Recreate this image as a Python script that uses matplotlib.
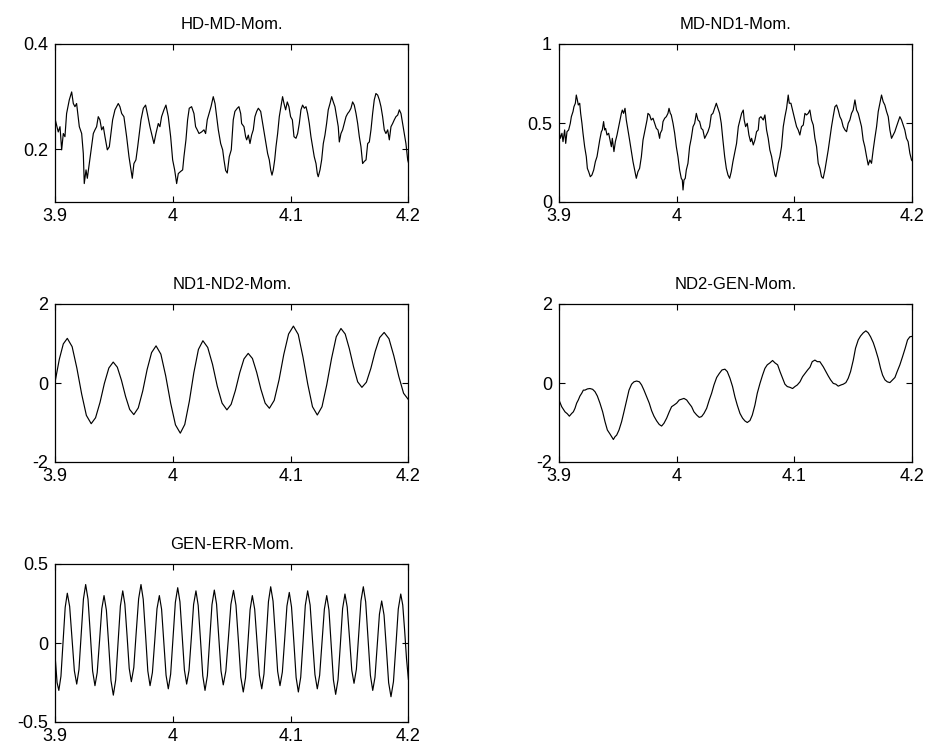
import matplotlib
matplotlib.use("Agg")
import matplotlib.pyplot as plt

plt.rcParams['font.family'] = ['Liberation Sans', 'DejaVu Sans']

titles = ["HD-MD-Mom.", "MD-ND1-Mom.", "ND1-ND2-Mom.", "ND2-GEN-Mom.", "GEN-ERR-Mom."]
x_ticks = [3.9, 4.0, 4.1, 4.2]
x_ticklabels = ["3.9", "4", "4.1", "4.2"]
x_limits = (3.9, 4.2)
y_limits = [(0.1, 0.4), (0.0, 1.0), (-2.0, 2.0), (-2.0, 2.0), (-0.5, 0.5)]
y_ticks = [[0.2, 0.4], [0.0, 0.5, 1.0], [-2, 0, 2], [-2, 0, 2], [-0.5, 0, 0.5]]
y_ticklabels = [["0.2", "0.4"], ["0", "0.5", "1"], ["-2", "0", "2"], ["-2", "0", "2"], ["-0.5", "0", "0.5"]]

# ---------------- HD-MD-Mom. ----------------
hdmd_t = [3.9000, 3.9025, 3.9040, 3.9054, 3.9068, 3.9082, 3.9096, 3.9119, 3.9139, 3.9153,
          3.9167, 3.9181, 3.9204, 3.9224, 3.9238, 3.9246, 3.9261, 3.9272, 3.9289, 3.9309,
          3.9323, 3.9337, 3.9351, 3.9365, 3.9379, 3.9394, 3.9408, 3.9422, 3.9442, 3.9459,
          3.9473, 3.9487, 3.9507, 3.9535, 3.9549, 3.9564, 3.9583, 3.9606, 3.9626, 3.9643,
          3.9654, 3.9668, 3.9685, 3.9700, 3.9714, 3.9728, 3.9748, 3.9767, 3.9782, 3.9804,
          3.9818, 3.9838, 3.9855, 3.9875, 3.9889, 3.9903, 3.9923, 3.9940, 3.9960, 3.9980,
          3.9997, 4.0014, 4.0031, 4.0045, 4.0065, 4.0082, 4.0093, 4.0110, 4.0124, 4.0138,
          4.0158, 4.0178, 4.0192, 4.0206, 4.0221, 4.0243, 4.0263, 4.0277, 4.0291, 4.0306,
          4.0323, 4.0342, 4.0357, 4.0371, 4.0385, 4.0405, 4.0422, 4.0433, 4.0447, 4.0461,
          4.0478, 4.0495,
          4.0512, 4.0526, 4.0546, 4.0560, 4.0575, 4.0583, 4.0603, 4.0617, 4.0626, 4.0640,
          4.0654, 4.0668, 4.0682, 4.0696, 4.0711, 4.0725, 4.0745, 4.0762, 4.0776, 4.0790,
          4.0804, 4.0818, 4.0830, 4.0841, 4.0852, 4.0864, 4.0875, 4.0889, 4.0903, 4.0917,
          4.0931, 4.0943, 4.0957, 4.0971, 4.0985, 4.0999, 4.1014, 4.1028, 4.1045, 4.1059,
          4.1073, 4.1087, 4.1101, 4.1116, 4.1130, 4.1144, 4.1158, 4.1172, 4.1186, 4.1200,
          4.1215, 4.1226, 4.1234, 4.1249, 4.1263, 4.1277, 4.1291, 4.1305, 4.1319, 4.1334,
          4.1348, 4.1362, 4.1376, 4.1390, 4.1404, 4.1413, 4.1427, 4.1441, 4.1455, 4.1470,
          4.1484, 4.1498, 4.1512, 4.1526, 4.1540, 4.1555, 4.1569, 4.1583, 4.1597, 4.1611,
          4.1625, 4.1640, 4.1654, 4.1668, 4.1682, 4.1696, 4.1710, 4.1724, 4.1739, 4.1753,
          4.1767, 4.1781, 4.1795, 4.1809, 4.1824, 4.1838, 4.1852, 4.1866, 4.1880, 4.1894,
          4.1909, 4.1923, 4.1937, 4.1951, 4.1965, 4.1979, 4.1994, 4.2000]
hdmd_v = [0.256, 0.233, 0.243, 0.199, 0.230, 0.224, 0.268, 0.294, 0.309, 0.287,
          0.281, 0.287, 0.243, 0.230, 0.192, 0.135, 0.161, 0.145, 0.173, 0.205,
          0.230, 0.237, 0.243, 0.262, 0.256, 0.237, 0.243, 0.224, 0.199, 0.205,
          0.230, 0.256, 0.275, 0.287, 0.281, 0.268, 0.262, 0.224, 0.186, 0.161,
          0.145, 0.173, 0.180, 0.205, 0.230, 0.256, 0.278, 0.284, 0.268, 0.243,
          0.230, 0.211, 0.230, 0.249, 0.243, 0.262, 0.275, 0.284, 0.262, 0.224,
          0.180, 0.161, 0.135, 0.154, 0.158, 0.161, 0.186, 0.218, 0.256, 0.278,
          0.281, 0.268, 0.243, 0.237, 0.230, 0.233, 0.237, 0.230, 0.256, 0.268,
          0.281, 0.300, 0.287, 0.262, 0.237, 0.211, 0.199, 0.180, 0.160, 0.155,
          0.186, 0.199,
          0.256, 0.272, 0.278, 0.281, 0.268, 0.249, 0.243, 0.224, 0.218, 0.227,
          0.211, 0.227, 0.237, 0.262, 0.272, 0.278, 0.272, 0.249, 0.230, 0.211,
          0.192, 0.180, 0.161, 0.151, 0.161, 0.180, 0.205, 0.230, 0.262, 0.281,
          0.300, 0.287, 0.275, 0.290, 0.281, 0.262, 0.256, 0.224, 0.221, 0.230,
          0.249, 0.275, 0.284, 0.278, 0.281, 0.268, 0.249, 0.224, 0.205, 0.186,
          0.173, 0.154, 0.148, 0.161, 0.180, 0.211, 0.227, 0.249, 0.275, 0.287,
          0.300, 0.290, 0.281, 0.262, 0.243, 0.214, 0.230, 0.237, 0.249, 0.262,
          0.268, 0.272, 0.278, 0.290, 0.284, 0.268, 0.249, 0.224, 0.205, 0.173,
          0.177, 0.180, 0.211, 0.214, 0.237, 0.268, 0.294, 0.306, 0.303, 0.294,
          0.281, 0.262, 0.237, 0.230, 0.237, 0.218, 0.243, 0.249, 0.256, 0.262,
          0.265, 0.275, 0.268, 0.249, 0.230, 0.211, 0.180, 0.175]

# ---------------- MD-ND1-Mom. ----------------
mdnd1_t = [3.9000, 3.9011, 3.9025, 3.9034, 3.9048, 3.9057, 3.9068, 3.9082, 3.9096, 3.9105,
           3.9119, 3.9127, 3.9139, 3.9147, 3.9156, 3.9164, 3.9176, 3.9184, 3.9195, 3.9204,
           3.9218, 3.9232, 3.9241, 3.9252, 3.9266, 3.9280, 3.9295, 3.9309, 3.9323, 3.9337,
           3.9346, 3.9360, 3.9368, 3.9379, 3.9388, 3.9396, 3.9408, 3.9422, 3.9436, 3.9445,
           3.9453, 3.9467, 3.9479, 3.9493, 3.9507, 3.9515, 3.9530, 3.9538, 3.9549, 3.9561,
           3.9572, 3.9586, 3.9600, 3.9615, 3.9629, 3.9643, 3.9657, 3.9671, 3.9685, 3.9700,
           3.9714, 3.9728, 3.9736, 3.9748, 3.9756, 3.9770, 3.9784, 3.9799, 3.9813, 3.9827,
           3.9841, 3.9855, 3.9861, 3.9875, 3.9884, 3.9898, 3.9912, 3.9926, 3.9935, 3.9946,
           3.9954, 3.9969, 3.9983, 3.9997, 4.0011, 4.0025, 4.0039, 4.0048, 4.0054, 4.0062,
           4.0073, 4.0082, 4.0096, 4.0110, 4.0124, 4.0139, 4.0153, 4.0167, 4.0181, 4.0195,
           4.0209, 4.0223, 4.0238, 4.0252, 4.0266, 4.0280, 4.0294, 4.0308, 4.0323, 4.0337,
           4.0351, 4.0365, 4.0379, 4.0393, 4.0408, 4.0422, 4.0436, 4.0450, 4.0464, 4.0478,
           4.0509, 4.0524, 4.0538, 4.0552, 4.0566, 4.0574, 4.0586, 4.0600, 4.0614, 4.0628,
           4.0637, 4.0651, 4.0665, 4.0679, 4.0693, 4.0702, 4.0716, 4.0736, 4.0750, 4.0764,
           4.0778, 4.0792, 4.0807, 4.0821, 4.0835, 4.0843, 4.0855, 4.0863, 4.0877, 4.0891,
           4.0906, 4.0920, 4.0934, 4.0948, 4.0957, 4.0971, 4.0991, 4.1005, 4.1019, 4.1033,
           4.1047, 4.1061, 4.1076, 4.1090, 4.1104, 4.1118, 4.1132, 4.1146, 4.1161, 4.1175,
           4.1189, 4.1203, 4.1217, 4.1231, 4.1245, 4.1260, 4.1274, 4.1288, 4.1302, 4.1316,
           4.1330, 4.1345, 4.1359, 4.1373, 4.1387, 4.1401, 4.1415, 4.1430, 4.1444, 4.1458,
           4.1472, 4.1486, 4.1500, 4.1515, 4.1529, 4.1543, 4.1557, 4.1571, 4.1585, 4.1599,
           4.1614, 4.1628, 4.1642, 4.1656, 4.1670, 4.1684, 4.1699, 4.1713, 4.1727, 4.1741,
           4.1755, 4.1769, 4.1784, 4.1798, 4.1812, 4.1826, 4.1840, 4.1854, 4.1868, 4.1883,
           4.1897, 4.1911, 4.1925, 4.1939, 4.1953, 4.1967, 4.1982, 4.1996, 4.2000]
mdnd1_v = [0.456, 0.403, 0.435, 0.382, 0.456, 0.371, 0.445, 0.456, 0.498, 0.540,
           0.572, 0.603, 0.625, 0.677, 0.646, 0.614, 0.625, 0.561, 0.498, 0.435,
           0.350, 0.287, 0.213, 0.192, 0.160, 0.171, 0.203, 0.255, 0.287, 0.350,
           0.392, 0.445, 0.456, 0.509, 0.456, 0.466, 0.424, 0.435, 0.382, 0.350,
           0.403, 0.319, 0.382, 0.424, 0.477, 0.509, 0.561, 0.582, 0.561, 0.593,
           0.519, 0.456, 0.392, 0.319, 0.255, 0.203, 0.150, 0.192, 0.213, 0.287,
           0.392, 0.445, 0.477, 0.519, 0.561, 0.551, 0.519, 0.530, 0.498, 0.466,
           0.456, 0.403, 0.435, 0.456, 0.509, 0.530, 0.540, 0.561, 0.593, 0.561,
           0.551, 0.498, 0.435, 0.350, 0.287, 0.203, 0.150, 0.139, 0.076, 0.139,
           0.150, 0.203, 0.245, 0.350, 0.403, 0.477, 0.498, 0.561, 0.519, 0.509,
           0.466, 0.456, 0.403, 0.424, 0.445, 0.477, 0.551, 0.561, 0.593, 0.625,
           0.593, 0.561, 0.498, 0.392, 0.287, 0.213, 0.171, 0.150, 0.192, 0.255,
           0.371, 0.477, 0.519, 0.561, 0.582, 0.519, 0.477, 0.498, 0.424, 0.382,
           0.403, 0.361, 0.392, 0.445, 0.456, 0.530, 0.540, 0.519, 0.551, 0.456,
           0.403, 0.329, 0.287, 0.224, 0.171, 0.160, 0.203, 0.245, 0.287, 0.350,
           0.477, 0.540, 0.593, 0.677, 0.625, 0.625, 0.561, 0.519, 0.477, 0.456,
           0.424, 0.477, 0.487, 0.561, 0.551, 0.561, 0.582, 0.519, 0.487, 0.403,
           0.350, 0.245, 0.213, 0.160, 0.150, 0.203, 0.266, 0.329, 0.403, 0.477,
           0.540, 0.603, 0.614, 0.582, 0.540, 0.519, 0.477, 0.456, 0.445, 0.498,
           0.519, 0.561, 0.582, 0.646, 0.582, 0.561, 0.519, 0.477, 0.392, 0.350,
           0.287, 0.234, 0.266, 0.245, 0.329, 0.403, 0.477, 0.572, 0.625, 0.677,
           0.635, 0.614, 0.572, 0.540, 0.456, 0.403, 0.424, 0.445, 0.477, 0.509,
           0.540, 0.519, 0.487, 0.456, 0.403, 0.382, 0.308, 0.266, 0.262]

# ---------------- ND1-ND2-Mom. ----------------
nd1nd2_t = [3.9000, 3.9034, 3.9068, 3.9102, 3.9143, 3.9183, 3.9224, 3.9264, 3.9305,
            3.9342, 3.9380, 3.9417, 3.9455, 3.9492, 3.9527, 3.9562, 3.9597, 3.9632, 3.9667,
            3.9705, 3.9743, 3.9780, 3.9818, 3.9856, 3.9897, 3.9938, 3.9980, 4.0021, 4.0062,
            4.0100, 4.0139, 4.0177, 4.0216, 4.0254, 4.0295, 4.0336, 4.0376, 4.0417, 4.0458,
            4.0494, 4.0530, 4.0567, 4.0603, 4.0639, 4.0675, 4.0711, 4.0747, 4.0783, 4.0819,
            4.0860, 4.0901, 4.0941, 4.0982, 4.1023, 4.1064, 4.1104, 4.1145, 4.1185, 4.1226,
            4.1266, 4.1306, 4.1347, 4.1387, 4.1427, 4.1463, 4.1498, 4.1534, 4.1569, 4.1605,
            4.1643, 4.1681, 4.1718, 4.1756, 4.1794, 4.1835, 4.1876, 4.1918, 4.1959, 4.2000]
nd1nd2_v = [0.06, 0.60, 0.99, 1.13, 0.92, 0.38, -0.28, -0.82, -1.03,
            -0.88, -0.49, -0.01, 0.38, 0.53, 0.40, 0.07, -0.34, -0.67, -0.80,
            -0.63, -0.20, 0.34, 0.77, 0.94, 0.73, 0.18, -0.51, -1.06, -1.27,
            -1.05, -0.46, 0.26, 0.85, 1.07, 0.90, 0.47, -0.08, -0.51, -0.68,
            -0.54, -0.19, 0.26, 0.61, 0.75, 0.62, 0.27, -0.16, -0.51, -0.64,
            -0.44, 0.08, 0.72, 1.24, 1.44, 1.23, 0.66, -0.03, -0.60, -0.81,
            -0.60, -0.05, 0.62, 1.17, 1.38, 1.24, 0.87, 0.41, 0.03, -0.11,
            0.02, 0.37, 0.80, 1.15, 1.28, 1.12, 0.69, 0.17, -0.26, -0.42]

# ---------------- ND2-GEN-Mom. ----------------
nd2gen_t = [3.9000, 3.9023, 3.9051, 3.9071, 3.9088, 3.9108, 3.9122, 3.9136, 3.9150, 3.9164,
            3.9178, 3.9193, 3.9207, 3.9221, 3.9241, 3.9263, 3.9286, 3.9306, 3.9326, 3.9348,
            3.9371, 3.9391, 3.9411, 3.9433, 3.9447, 3.9462, 3.9476, 3.9490, 3.9510, 3.9532,
            3.9552, 3.9575, 3.9595, 3.9617, 3.9637, 3.9660, 3.9683, 3.9702, 3.9722, 3.9745,
            3.9767, 3.9787, 3.9807, 3.9830, 3.9852, 3.9872, 3.9892, 3.9915, 3.9937, 3.9957,
            3.9977, 4.0000, 4.0022, 4.0042, 4.0062, 4.0085, 4.0104, 4.0127, 4.0147, 4.0170,
            4.0192, 4.0212, 4.0232, 4.0255, 4.0277, 4.0297, 4.0317, 4.0340, 4.0362, 4.0385,
            4.0410, 4.0430, 4.0453, 4.0475, 4.0495, 4.0515, 4.0538, 4.0560, 4.0580, 4.0600,
            4.0623, 4.0643, 4.0665, 4.0685, 4.0708, 4.0730, 4.0750, 4.0770, 4.0793, 4.0815,
            4.0835, 4.0858, 4.0878, 4.0900, 4.0920, 4.0940, 4.0963, 4.0985, 4.1005, 4.1025,
            4.1048, 4.1070, 4.1090, 4.1113, 4.1133, 4.1152, 4.1175, 4.1195, 4.1217, 4.1246,
            4.1268, 4.1288, 4.1308, 4.1331, 4.1353, 4.1373, 4.1396, 4.1416, 4.1438, 4.1458,
            4.1478, 4.1501, 4.1520, 4.1543, 4.1563, 4.1586, 4.1608, 4.1628, 4.1648, 4.1671,
            4.1690, 4.1713, 4.1733, 4.1750, 4.1770, 4.1790, 4.1812, 4.1835, 4.1855, 4.1874,
            4.1897, 4.1920, 4.1942, 4.1962, 4.1982, 4.2000]
nd2gen_v = [-0.43, -0.60, -0.73, -0.78, -0.84, -0.77, -0.73, -0.64, -0.51, -0.43,
            -0.33, -0.26, -0.18, -0.18, -0.15, -0.14, -0.16, -0.22, -0.33, -0.51,
            -0.73, -0.98, -1.19, -1.29, -1.36, -1.43, -1.36, -1.32, -1.19, -0.98,
            -0.73, -0.43, -0.18, -0.03, 0.03, 0.05, 0.03, -0.05, -0.18, -0.35,
            -0.51, -0.70, -0.84, -0.96, -1.05, -1.09, -1.02, -0.89, -0.73, -0.60,
            -0.56, -0.51, -0.43, -0.41, -0.39, -0.43, -0.51, -0.60, -0.73, -0.81,
            -0.87, -0.85, -0.77, -0.64, -0.43, -0.26, -0.05, 0.14, 0.24, 0.33,
            0.35, 0.29, 0.12, -0.09, -0.35, -0.56, -0.77, -0.89, -0.96, -1.00,
            -0.95, -0.81, -0.56, -0.26, -0.01, 0.20, 0.37, 0.46, 0.51, 0.57,
            0.51, 0.46, 0.29, 0.12, -0.03, -0.09, -0.11, -0.14, -0.09, -0.05,
            0.03, 0.16, 0.24, 0.33, 0.40, 0.54, 0.58, 0.54, 0.54, 0.41,
            0.29, 0.18, 0.08, -0.01, -0.03, -0.08, -0.05, -0.03, 0.01, 0.12,
            0.29, 0.58, 0.88, 1.09, 1.19, 1.27, 1.32, 1.27, 1.17, 1.02,
            0.85, 0.62, 0.37, 0.20, 0.08, 0.03, 0.01, 0.08, 0.14, 0.29,
            0.46, 0.67, 0.88, 1.09, 1.17, 1.18]

# ---------------- GEN-ERR-Mom. ----------------
generr_t = [3.9000, 3.9015, 3.9030,
            3.9048, 3.9066, 3.9084, 3.9102,
            3.9122, 3.9142, 3.9162, 3.9182,
            3.9201, 3.9220, 3.9239, 3.9258,
            3.9278, 3.9298, 3.9317, 3.9337,
            3.9356, 3.9376, 3.9395, 3.9414,
            3.9434, 3.9454, 3.9473, 3.9493,
            3.9513, 3.9533, 3.9553, 3.9573,
            3.9591, 3.9610, 3.9628, 3.9646,
            3.9667, 3.9687, 3.9708, 3.9728,
            3.9747, 3.9767, 3.9786, 3.9805,
            3.9825, 3.9845, 3.9864, 3.9884,
            3.9903, 3.9922, 3.9941, 3.9960,
            3.9980, 4.0000, 4.0020, 4.0040,
            4.0059, 4.0078, 4.0097, 4.0116,
            4.0136, 4.0156, 4.0175, 4.0195,
            4.0214, 4.0234, 4.0253, 4.0272,
            4.0292, 4.0312, 4.0331, 4.0351,
            4.0370, 4.0389, 4.0408, 4.0427,
            4.0449, 4.0471, 4.0492, 4.0514,
            4.0535, 4.0556, 4.0576, 4.0597,
            4.0616, 4.0636, 4.0655, 4.0674,
            4.0694, 4.0714, 4.0734, 4.0754,
            4.0773, 4.0792, 4.0811, 4.0830,
            4.0850, 4.0870, 4.0889, 4.0909,
            4.0929, 4.0949, 4.0968, 4.0988,
            4.1007, 4.1027, 4.1046, 4.1065,
            4.1085, 4.1105, 4.1124, 4.1144,
            4.1165, 4.1185, 4.1206, 4.1226,
            4.1246, 4.1266, 4.1286, 4.1306,
            4.1325, 4.1344, 4.1363, 4.1382,
            4.1402, 4.1422, 4.1441, 4.1461,
            4.1480, 4.1500, 4.1519, 4.1538,
            4.1558, 4.1578, 4.1597, 4.1617,
            4.1637, 4.1657, 4.1677, 4.1697,
            4.1716, 4.1735, 4.1754, 4.1773,
            4.1793, 4.1813, 4.1832, 4.1852,
            4.1873, 4.1894, 4.1914, 4.1935,
            4.1952, 4.1968, 4.1984, 4.2000]
generr_v = [-0.10, -0.25, -0.30,
            -0.210, 0.008, 0.225, 0.315,
            0.231, 0.028, -0.176, -0.26,
            -0.168, 0.055, 0.278, 0.37,
            0.277, 0.05, -0.177, -0.27,
            -0.187, 0.015, 0.217, 0.30,
            0.208, -0.015, -0.238, -0.33,
            -0.234, 0.0, 0.234, 0.33,
            0.246, 0.043, -0.161, -0.245,
            -0.155, 0.063, 0.280, 0.37,
            0.277, 0.05, -0.177, -0.27,
            -0.187, 0.015, 0.217, 0.30,
            0.214, 0.005, -0.204, -0.29,
            -0.197, 0.03, 0.257, 0.35,
            0.261, 0.045, -0.171, -0.26,
            -0.174, 0.035, 0.244, 0.33,
            0.238, 0.015, -0.208, -0.30,
            -0.207, 0.018, 0.242, 0.335,
            0.247, 0.035, -0.177, -0.265,
            -0.177, 0.034, 0.245, 0.333,
            0.239, 0.012, -0.216, -0.31,
            -0.221, -0.005, 0.211, 0.30,
            0.214, 0.005, -0.204, -0.29,
            -0.196, 0.033, 0.262, 0.356,
            0.265, 0.043, -0.179, -0.27,
            -0.184, 0.025, 0.234, 0.32,
            0.228, 0.005, -0.218, -0.31,
            -0.217, 0.01, 0.237, 0.33,
            0.240, 0.02, -0.200, -0.29,
            -0.204, 0.005, 0.214, 0.30,
            0.209, -0.013, -0.234, -0.325,
            -0.233, -0.008, 0.218, 0.31,
            0.228, 0.028, -0.173, -0.255,
            -0.166, 0.051, 0.267, 0.356,
            0.260, 0.028, -0.204, -0.30,
            -0.217, -0.017, 0.183, 0.266,
            0.177, -0.037, -0.251, -0.34,
            -0.245, -0.015, 0.215, 0.31,
            0.24, 0.08, -0.10, -0.23]

series = [(hdmd_t, hdmd_v), (mdnd1_t, mdnd1_v), (nd1nd2_t, nd1nd2_v),
          (nd2gen_t, nd2gen_v), (generr_t, generr_v)]

W, H = 930, 750
fig = plt.figure(figsize=(W / 100, H / 100), dpi=100)
# axes boxes in pixels: (left, top, right, bottom)
boxes = [(55.3, 44, 408.4, 202), (559, 44, 912, 202),
         (55.3, 304, 408.4, 462), (559, 304, 912, 462),
         (55.3, 564, 408.4, 722)]

for i, (t, v) in enumerate(series):
    l, tp, r, b = boxes[i]
    ax = fig.add_axes([l / W, 1 - b / H, (r - l) / W, (b - tp) / H])
    ax.plot(t, v, color='black', lw=0.85)
    ax.set_xlim(*x_limits)
    ax.set_ylim(*y_limits[i])
    ax.set_xticks(x_ticks)
    ax.set_xticklabels(x_ticklabels)
    ax.set_yticks(y_ticks[i])
    ax.set_yticklabels(y_ticklabels[i])
    ax.tick_params(direction='in', length=4, width=0.8, top=True, right=True,
                   labelsize=13, colors='black')
    ax.tick_params(axis='x', pad=4)
    ax.tick_params(axis='y', pad=5)
    for s in ax.spines.values():
        s.set_linewidth(0.9)
        s.set_color('black')
    ax.set_title(titles[i], fontsize=12, pad=11)

fig.savefig("out.png", dpi=100, facecolor='white')
